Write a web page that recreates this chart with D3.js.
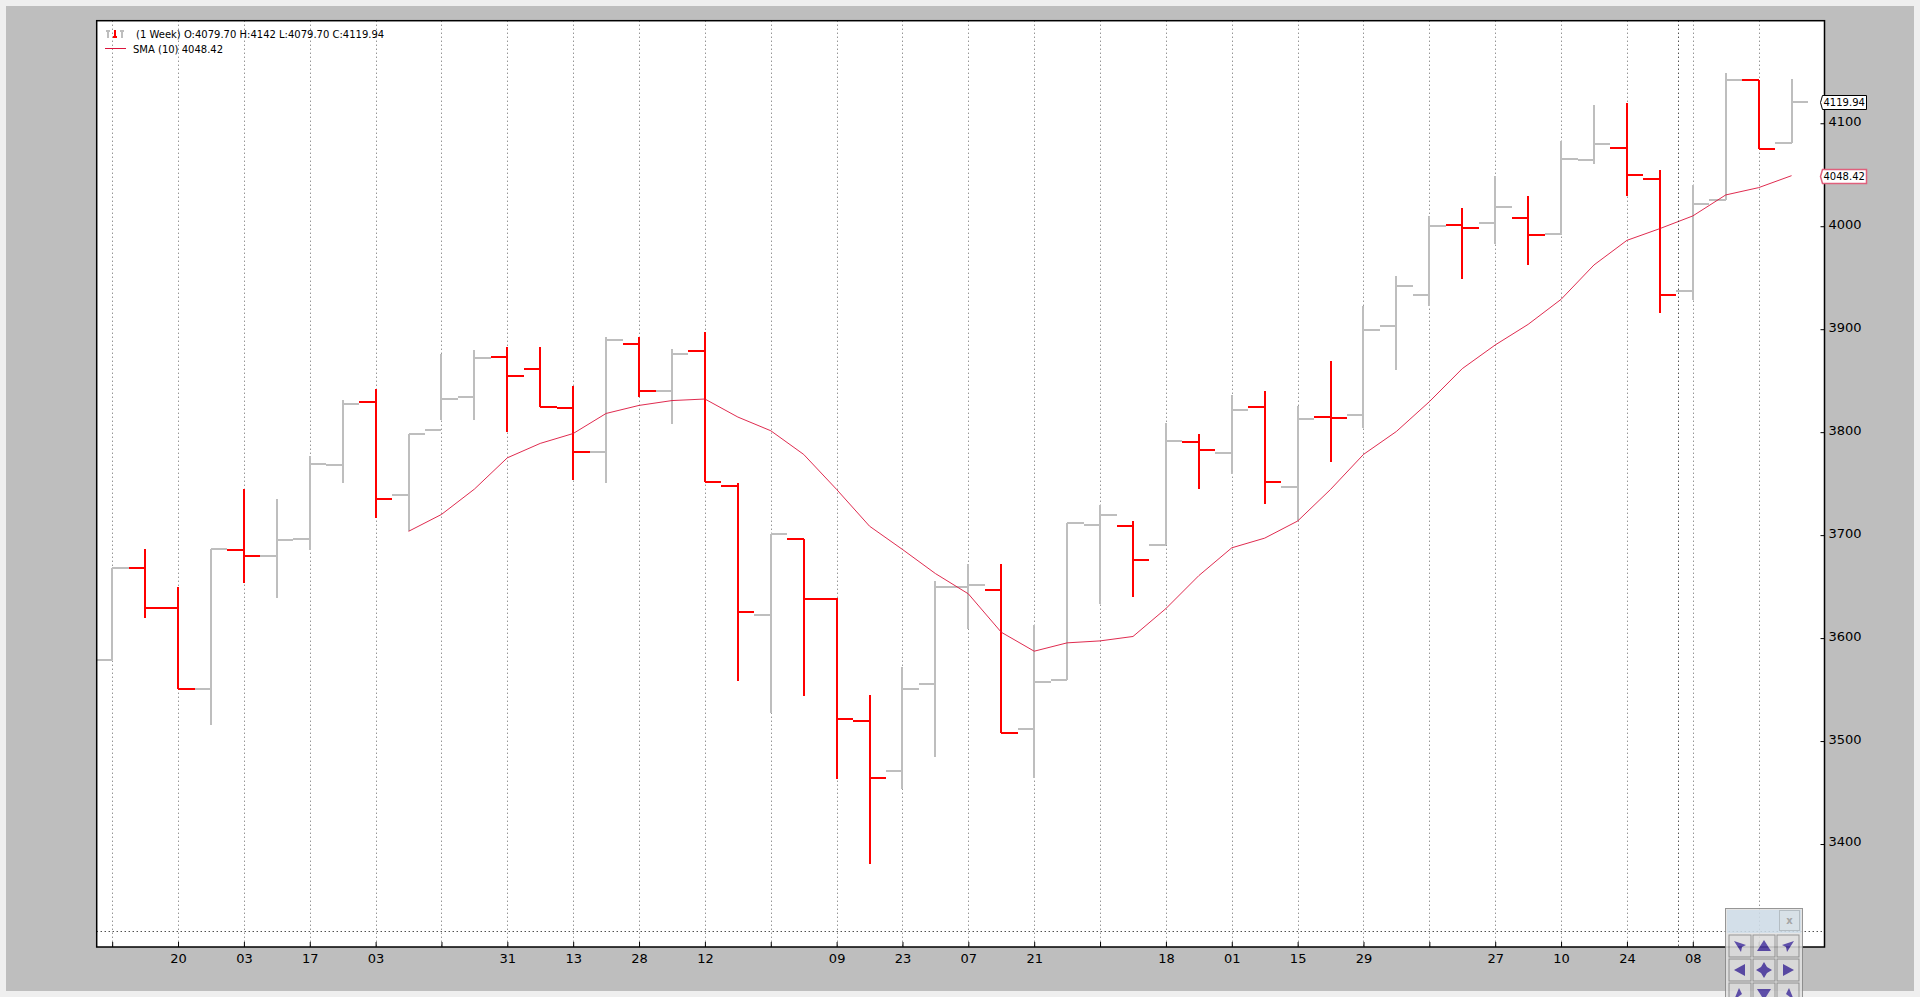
<!DOCTYPE html>
<html>
<head>
<meta charset="utf-8">
<script src="https://cdn.jsdelivr.net/npm/d3@7/dist/d3.min.js"></script>
<style>
html,body{margin:0;padding:0;background:#efefef;overflow:hidden}
svg{display:block}
text{font-family:"DejaVu Sans",sans-serif;fill:#000}
</style>
</head>
<body>
<svg id="c" width="1920" height="997"></svg>
<script>
const opens  = [3578.5,3667,3629,3550,3684.4,3678.6,3696,3767,3829,3738,3801,3833,3872,3860.6,3822.7,3779.6,3884.6,3839,3878,3747,3622,3696,3637,3519,3470,3554.5,3648.5,3645.6,3511.5,3559,3709,3708,3690,3790,3778.6,3824,3745.6,3814,3816,3902,3932.5,4000.5,4002.5,4007,3991.5,4063.7,4075,4045,3936.4,4025,4141.5,4079.7];
const highs  = [3667,3686,3649,3685.4,3744,3734.6,3776,3831,3841,3798,3875,3879,3882,3882,3844,3892,3892,3880,3897,3750,3700,3696,3638,3544,3571,3655,3671,3671,3612,3711,3729,3712.6,3808,3798,3835.7,3839,3825,3868,3922,3950.7,4009,4016.7,4048,4029,4082,4117,4119,4053.7,4039,4148,4141.5,4142];
const lows   = [3578.5,3619,3550,3514.7,3652.7,3638,3684.4,3750,3716,3703,3811,3811,3799,3823.7,3753,3750,3833,3807,3751,3558,3527,3543,3462,3380,3453,3484,3608,3507.6,3463,3559,3632,3639,3690,3743.7,3759,3730,3713,3770,3803,3859.6,3921.5,3948,3982,3961.7,3990.5,4060,4029,3915,3927.7,4025,4074,4079.7];
const closes = [3667,3629,3550,3685.4,3678.6,3695,3768,3826.6,3734,3798,3832,3871,3853.5,3823.7,3779.6,3888.5,3839,3875,3751,3625,3700,3637,3521,3463,3550,3648.5,3651,3507.6,3557,3711,3718.8,3675,3791,3781.6,3820.4,3751,3811.7,3813,3899,3941,3999.6,3998,4018,3991,4064.7,4079,4049,3932.5,4021,4141.5,4074,4119.94];
const smaStart = 9;
const sma = [3703,3719.4,3744,3774.4,3788.4,3798,3817.5,3825.3,3830,3831.5,3814,3800.7,3777.7,3743.7,3708,3685.4,3662,3642.3,3605,3586.6,3594.7,3596.6,3600.9,3628,3660,3687,3696.4,3713,3743.7,3777.7,3800,3828.9,3861,3884,3904,3928.3,3961.7,3985.6,3997,4009.3,4029.7,4036.8,4048.42];
const xTickIndex  = [0,2,4,6,8,10,12,14,16,18,20,22,24,26,28,30,32,34,36,38,40,42,44,46,48,50];
const xTickLabels = ["","20","03","17","03","","31","13","28","12","","09","23","07","21","","18","01","15","29","","27","10","24","08",""];
const yTicks = [3400,3500,3600,3700,3800,3900,4000,4100];
const legendBar = "(1 Week) O:4079.70 H:4142 L:4079.70 C:4119.94";
const legendSma = "SMA (10) 4048.42";
const tagClose = 4119.94, tagSma = 4048.42;
const crossIndex = 47.54, crossValue = 3316;

const RED="#ff0000", GRAY="#bebebe", SMA="#dc143c";
const L=96.7,R=1824.5,T=20.7,B=947,DY=-0.7;
const svg=d3.select("#c");
svg.append("rect").attr("x",6).attr("y",6).attr("width",1908).attr("height",985).attr("fill","#bebebe");
svg.append("rect").attr("x",L).attr("y",T).attr("width",R-L).attr("height",B-T).attr("fill","#fff");

const x=d3.scaleLinear().domain([-0.47,52]).range([L,R]);
const y=d3.scaleLinear().domain([3300,4199.6]).range([B,T]);
const px=v=>Math.round(x(v));
const py=v=>Math.round(y(v)+DY);

svg.append("defs").append("clipPath").attr("id","plot").append("rect")
  .attr("x",L).attr("y",T).attr("width",R-L).attr("height",B-T);

// grid
svg.append("g").selectAll("line").data(xTickIndex).join("line")
  .attr("x1",d=>px(d)+.5).attr("x2",d=>px(d)+.5).attr("y1",T).attr("y2",B)
  .attr("stroke","#666").attr("stroke-width",1).attr("stroke-dasharray","1,3");

// bars
const plot=svg.append("g").attr("clip-path","url(#plot)");
const idx=d3.range(opens.length);
const col=i=>closes[i]>=opens[i]?GRAY:RED;
const bars=plot.append("g").attr("shape-rendering","crispEdges").attr("stroke-width",2);
const hw=x(0.5)-x(0);
bars.selectAll(".v").data(idx).join("line").attr("class","v")
  .attr("x1",px).attr("x2",px).attr("y1",i=>py(highs[i])).attr("y2",i=>py(lows[i])).attr("stroke",col);
bars.selectAll(".o").data(idx).join("line").attr("class","o")
  .attr("x1",i=>x(i)-hw).attr("x2",px).attr("y1",i=>py(opens[i])).attr("y2",i=>py(opens[i])).attr("stroke",col);
bars.selectAll(".c").data(idx).join("line").attr("class","c")
  .attr("x1",px).attr("x2",i=>x(i)+hw).attr("y1",i=>py(closes[i])).attr("y2",i=>py(closes[i])).attr("stroke",col);

// SMA
plot.append("path").datum(sma)
  .attr("d",d3.line().x((d,i)=>x(i+smaStart)).y(d=>y(d)+DY))
  .attr("fill","none").attr("stroke",SMA).attr("stroke-width",1).attr("stroke-opacity",.9);

// crosshair
svg.append("line").attr("x1",Math.round(x(crossIndex))+.5).attr("x2",Math.round(x(crossIndex))+.5).attr("y1",T).attr("y2",B)
  .attr("stroke","#000").attr("stroke-dasharray","1,3").attr("stroke-width",1);
svg.append("line").attr("x1",L).attr("x2",R).attr("y1",Math.round(y(crossValue))+.5).attr("y2",Math.round(y(crossValue))+.5)
  .attr("stroke","#000").attr("stroke-dasharray","1,3").attr("stroke-width",1);

// frame
svg.append("rect").attr("x",L).attr("y",T).attr("width",R-L).attr("height",B-T)
  .attr("fill","none").attr("stroke","#000").attr("stroke-width",1.5);

// axes
const xAxis=d3.axisBottom(x).tickValues(xTickIndex).tickFormat((d,i)=>xTickLabels[i]).tickSize(-5).tickPadding(7);
const gx=svg.append("g").attr("transform",`translate(0,${B})`).call(xAxis);
const yAxis=d3.axisRight(y).tickValues(yTicks).tickFormat(d3.format("d")).tickSize(-4).tickPadding(4);
const gy=svg.append("g").attr("transform",`translate(${R},0)`).call(yAxis);
[gx,gy].forEach(g=>{g.select(".domain").remove();
  g.selectAll("text").attr("font-size",13).style("font-family",'"DejaVu Sans",sans-serif').attr("fill","#000");
  g.selectAll("line").attr("stroke","#000");});
gy.selectAll("text").attr("dy","0.15em");

// legend
svg.append("text").attr("x",136).attr("y",38).attr("font-size",10).text(legendBar);
svg.append("text").attr("x",133).attr("y",52.5).attr("font-size",10).text(legendSma);
svg.append("rect").attr("x",105).attr("width",21).attr("y",48).attr("height",1).attr("fill",SMA);
const icon=svg.append("g").attr("stroke-width",2).attr("fill","none").attr("shape-rendering","crispEdges");
[[108,GRAY,31],[115,RED,37],[122,GRAY,31]].forEach(([cx,c,ty])=>{
  icon.append("line").attr("x1",cx).attr("x2",cx).attr("y1",30).attr("y2",38).attr("stroke",c);
  icon.append("line").attr("x1",cx-2).attr("x2",cx+2).attr("y1",ty).attr("y2",ty).attr("stroke",c);
});

// value tags
function tag(v,stroke,sw){
  const cy=Math.round(y(v)+DY)+.5, g=svg.append("g");
  const x0=1820.5,x1=1866.5,h=7;
  g.append("path").attr("d",`M${x0},${cy} L${x0+2},${cy-h} L${x1},${cy-h} L${x1},${cy+h} L${x0+2},${cy+h} Z`)
    .attr("fill","#fff").attr("stroke",stroke).attr("stroke-width",sw);
  g.append("text").attr("x",x0+3).attr("y",cy+3).attr("font-size",10).text(d3.format(".2f")(v));
}
tag(tagClose,"#000",1);
tag(tagSma,"#e0607c",1.5);

// floating toolbar
const tb=svg.append("g").attr("opacity",.88);
tb.append("rect").attr("x",1725.5).attr("y",908.5).attr("width",77).attr("height",100).attr("fill","#e2e2e2").attr("stroke","#888").attr("stroke-width",1);
tb.append("rect").attr("x",1727).attr("y",910).attr("width",74).attr("height",23).attr("fill","#cddbe6");
tb.append("rect").attr("x",1779.5).attr("y",910.5).attr("width",20).attr("height",20).attr("fill","#d3dde4").attr("stroke","#aab4bb").attr("stroke-width",1);
tb.append("text").attr("x",1789.5).attr("y",924).attr("text-anchor","middle").attr("font-size",10).attr("font-weight","bold").style("fill","#999").text("x");
const rowGlyphs=[
 ["M-6,-5 L6,-1 L2,1 L1,6 Z","M0,-6 L7,5 L-7,5 Z","M6,-5 L-6,-1 L-2,1 L-1,6 Z"],
 ["M-6,0 L5,-6 L5,6 Z","M0,-8 L3,-3 L8,0 L3,3 L0,8 L-3,3 L-8,0 L-3,-3 Z","M6,0 L-5,-6 L-5,6 Z"],
 ["M-6,6 L-1,-6 L2,0 Z","M0,6 L-7,-5 L7,-5 Z","M6,6 L1,-6 L-2,0 Z"]];
const colsX=[1740,1764,1788], rowsY=[946,970,994];
rowsY.forEach((ry,r)=>colsX.forEach((cx,c)=>{
  tb.append("rect").attr("x",cx-11).attr("y",ry-11).attr("width",22).attr("height",22)
    .attr("fill","#dcdcdc").attr("stroke","#888").attr("stroke-width",1);
  tb.append("path").attr("transform",`translate(${cx},${ry})`).attr("d",rowGlyphs[r][c]).attr("fill","#4a389f");
}));
</script>
</body>
</html>
